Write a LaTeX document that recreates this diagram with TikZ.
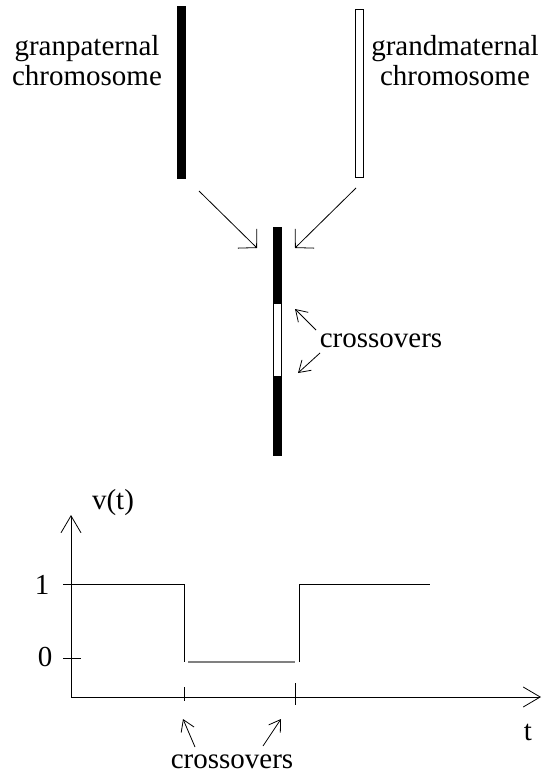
\documentclass[tikz,border=0pt]{standalone}
\usepackage{fontspec}
\setmainfont{Liberation Serif}
\usetikzlibrary{arrows.meta}
\begin{document}
\begin{tikzpicture}[x=1pt,y=-1pt,
  line width=0.8pt,
  lbl/.style={font=\fontsize{29}{30}\selectfont, inner sep=0pt},
  blackbar/.style={draw=black, fill=black, minimum width=8pt, inner sep=0pt, line width=0.5pt},
  whitebar/.style={draw=black, fill=white, minimum width=8pt, inner sep=0pt, line width=0.8pt},
  bigarrow/.style={-{Straight Barb[length=13pt,width=27pt]}},
  smallarrow/.style={-{Straight Barb[length=11pt,width=14pt]}},
  axisarrow/.style={-{Straight Barb[length=17pt,width=20pt]}}]
\useasboundingbox (0,0) rectangle (544,776);

% chromosomes
\node[blackbar, minimum height=172pt] (gp) at (181,92) {};
\node[whitebar, minimum height=168pt] (gm) at (359,93) {};
\node[lbl, align=center] (gpl) at (87,61) {granpaternal\\chromosome};
\node[lbl, align=center] (gml) at (455,61) {grandmaternal\\chromosome};

% child chromosome
\node[blackbar, minimum height=228pt] (child) at (277,341) {};
\node[whitebar, minimum height=73pt] (seg) at (277,339.5) {};

% arrows from parents
\coordinate (a1s) at (199,191);
\coordinate (a1e) at (257,248);
\coordinate (a2s) at (356,188);
\coordinate (a2e) at (295,248);
\draw[bigarrow] (a1s) -- (a1e);
\draw[bigarrow] (a2s) -- (a2e);

% crossovers label (middle)
\node[lbl, anchor=base] (cm) at (381,347) {crossovers};
\coordinate (c1s) at (316,330);
\coordinate (c1e) at (295,309);
\coordinate (c2s) at (320,353);
\coordinate (c2e) at (298,373);
\draw[smallarrow] (c1s) -- (c1e);
\draw[smallarrow] (c2s) -- (c2e);

% plot axes
\coordinate (O) at (71,697);
\coordinate (ytop) at (71,515);
\coordinate (xend) at (541,697);
\draw[axisarrow] (O) -- (ytop);
\draw[axisarrow] (O) -- (xend);
\node[lbl, anchor=base] (vt) at (113,509) {v(t)};
\node[lbl, anchor=base] (tl) at (528,740) {t};
\node[lbl, anchor=base] (one) at (42,594) {1};
\node[lbl, anchor=base] (zero) at (45,666) {0};

% ticks
\coordinate (t0a) at (63,658);
\coordinate (t0b) at (81,658);
\draw (t0a) -- (t0b);
\coordinate (tx1a) at (184,687);
\coordinate (tx1b) at (184,701);
\coordinate (tx2a) at (295,683);
\coordinate (tx2b) at (295,705);
\draw (tx1a) -- (tx1b);
\draw (tx2a) -- (tx2b);

% signal
\coordinate (s0) at (63,584);
\coordinate (s1) at (184,584);
\coordinate (s2) at (184,662);
\coordinate (s3) at (188,662);
\coordinate (s4) at (295,662);
\coordinate (s5) at (299,662);
\coordinate (s6) at (299,584);
\coordinate (s7) at (430,584);
\draw (s0) -- (s1) -- (s2);
\draw[gray, line width=1.1pt] (s3) -- (s4);
\draw (s5) -- (s6) -- (s7);

% crossovers label (bottom)
\node[lbl, anchor=base] (cb) at (232,768) {crossovers};
\coordinate (b1s) at (195,747);
\coordinate (b1e) at (183,719);
\coordinate (b2s) at (263,746);
\coordinate (b2e) at (281,719);
\draw[smallarrow] (b1s) -- (b1e);
\draw[smallarrow] (b2s) -- (b2e);
\end{tikzpicture}
\end{document}
